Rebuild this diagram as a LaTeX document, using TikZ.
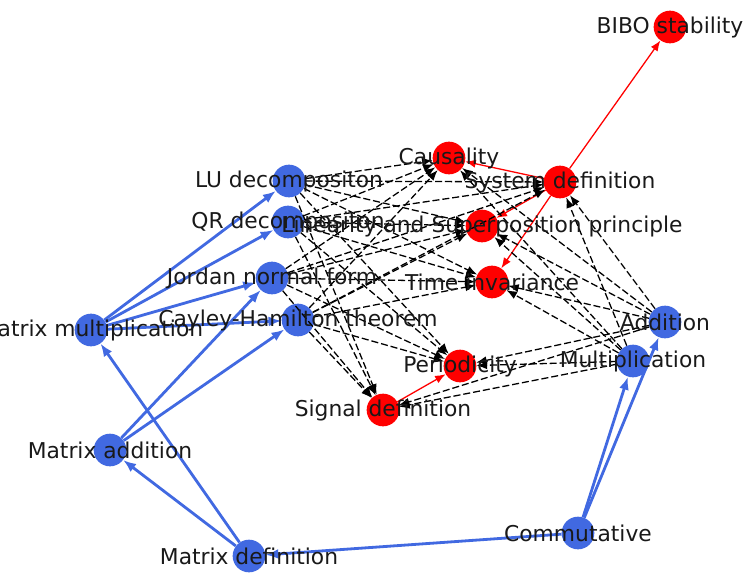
\documentclass[tikz,border=0pt]{standalone}
\usepackage{fontspec}
\setmainfont{DejaVu Sans}
\usetikzlibrary{arrows.meta}
\definecolor{royal}{RGB}{65,105,225}
\begin{document}
\begin{tikzpicture}[x=0.03cm,y=-0.03cm,
	blue node/.style={circle,fill=royal,inner sep=0pt,minimum size=0.98cm},
	red node/.style={circle,fill=red,inner sep=0pt,minimum size=0.98cm},
	lbl/.style={font=\fontsize{18.6}{20}\selectfont,text=black!90,inner sep=0pt},
	matarrow/.style={royal,line width=2.4pt,-{Latex[length=11pt,width=8.5pt]}},
	sigarrow/.style={red,line width=1.1pt,-{Latex[length=9pt,width=7pt]}},
	dep/.style={black,line width=1.1pt,dash pattern=on 6pt off 2.5pt,-{Latex[length=9pt,width=7pt]}}]
	\path[use as bounding box,clip] (0,0) rectangle (745,574);
	% nodes
	\node[red node] (bibo) at (670,27) {};
	\node[red node] (caus) at (449,158) {};
	\node[red node] (sysdef) at (560,182) {};
	\node[red node] (lin) at (482,226) {};
	\node[red node] (timeinv) at (492,282) {};
	\node[red node] (period) at (460,366) {};
	\node[red node] (signal) at (383,410) {};
	\node[blue node] (lu) at (289,181) {};
	\node[blue node] (qr) at (288,222) {};
	\node[blue node] (jordan) at (272,278) {};
	\node[blue node] (cayley) at (298,320) {};
	\node[blue node] (matmul) at (91,330) {};
	\node[blue node] (add) at (665,322) {};
	\node[blue node] (mult) at (633,361) {};
	\node[blue node] (matadd) at (110,450) {};
	\node[blue node] (comm) at (578,533) {};
	\node[blue node] (matdef) at (249,556) {};
	% matrix side
	\draw[matarrow] (matmul) -- (lu);
	\draw[matarrow] (matmul) -- (qr);
	\draw[matarrow] (matmul) -- (jordan);
	\draw[matarrow] (matmul) -- (cayley);
	\draw[matarrow] (matadd) -- (jordan);
	\draw[matarrow] (matadd) -- (cayley);
	\draw[matarrow] (matdef) -- (matadd);
	\draw[matarrow] (matdef) -- (matmul);
	\draw[matarrow] (comm) -- (matdef);
	\draw[matarrow] (comm) -- (mult);
	\draw[matarrow] (comm) -- (add);
	% signal side
	\draw[sigarrow] (sysdef) -- (bibo);
	\draw[sigarrow] (sysdef) -- (caus);
	\draw[sigarrow] (sysdef) -- (lin);
	\draw[sigarrow] (sysdef) -- (timeinv);
	\draw[sigarrow] (signal) -- (period);
	% cross links
	\foreach \s in {lu,qr,jordan,cayley,add,mult}
		\foreach \t in {caus,sysdef,lin,timeinv,period,signal}
			\draw[dep] (\s) -- (\t);
	% labels
	\node[lbl] at (bibo) {BIBO stability};
	\node[lbl] at (caus) {Causality};
	\node[lbl] at (sysdef) {System definition};
	\node[lbl] at (lin) {Linearity and Superposition principle};
	\node[lbl] at (timeinv) {Time invariance};
	\node[lbl] at (period) {Periodicity};
	\node[lbl] at (signal) {Signal definition};
	\node[lbl] at (lu) {LU decompositon};
	\node[lbl] at (qr) {QR decompositon};
	\node[lbl] at (jordan) {Jordan normal form};
	\node[lbl] at (cayley) {Cayley-Hamilton theorem};
	\node[lbl] at (matmul) {Matrix multiplication};
	\node[lbl] at (add) {Addition};
	\node[lbl] at (mult) {Multiplication};
	\node[lbl] at (matadd) {Matrix addition};
	\node[lbl] at (comm) {Commutative};
	\node[lbl] at (matdef) {Matrix definition};
\end{tikzpicture}
\end{document}
